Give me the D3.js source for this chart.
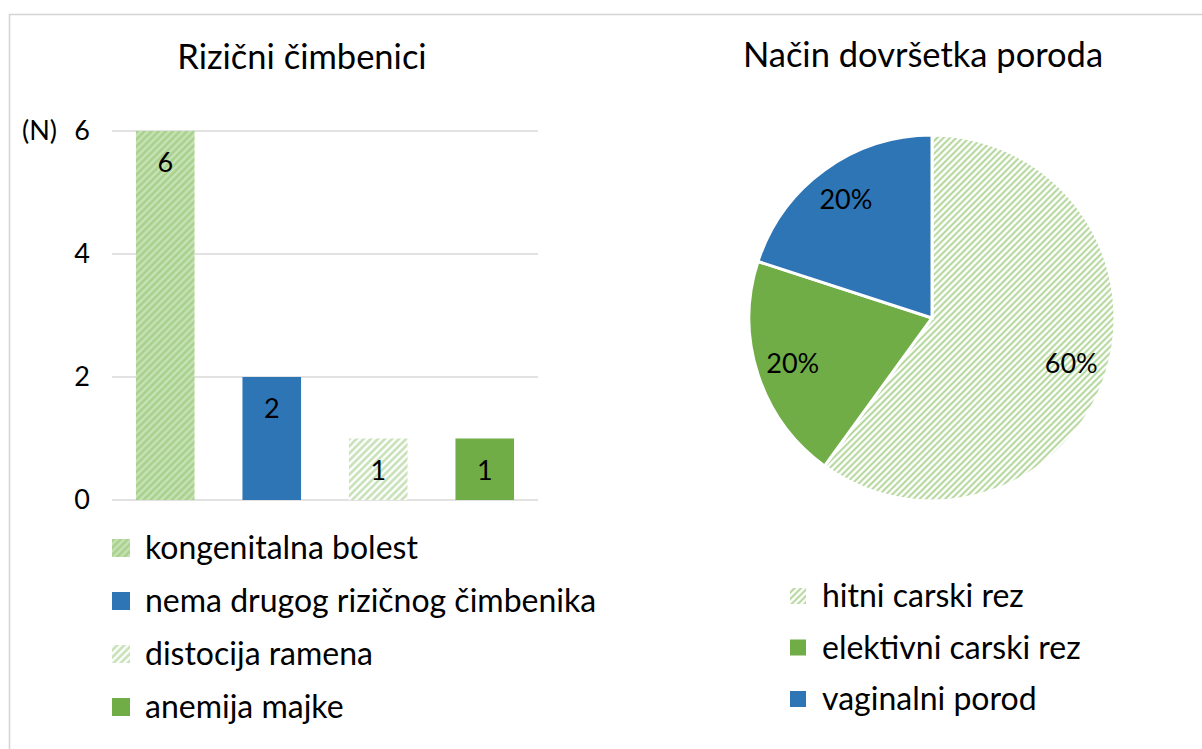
<!DOCTYPE html>
<html>
<head>
<meta charset="utf-8">
<script src="https://cdn.jsdelivr.net/npm/d3@7"></script>
<style>
  body { margin: 0; background: #fff; }
  svg text { font-family: Lato, "Open Sans", sans-serif; fill: #000; }
</style>
</head>
<body>
<svg class="chart"></svg>
<script>
const barCategories = ['kongenitalna bolest', 'nema drugog rizičnog čimbenika', 'distocija ramena', 'anemija majke'];
const barValues = [6, 2, 1, 1];
const barTicks = [0, 2, 4, 6];

const pieCategories = ['hitni carski rez', 'elektivni carski rez', 'vaginalni porod'];
const pieValues = [60, 20, 20];

const width = 1202,
      height = 749;

const chart = d3.select('.chart')
                .attr('width', width)
                .attr('height', height);

// patterns
const defs = chart.append('defs');

function addPattern(id, bg, stripe, sw, size) {
  const p = defs.append('pattern')
                .attr('id', id)
                .attr('patternUnits', 'userSpaceOnUse')
                .attr('width', size)
                .attr('height', size)
                .attr('patternTransform', 'rotate(45)');
  p.append('rect')
   .attr('width', size)
   .attr('height', size)
   .attr('fill', bg);
  p.append('line')
   .attr('x1', size / 2).attr('y1', 0)
   .attr('x2', size / 2).attr('y2', size)
   .attr('stroke', stripe)
   .attr('stroke-width', sw);
}

addPattern('pat-dense', '#a9d18e', '#cde5bd', 2, 5);
addPattern('pat-light', '#ffffff', '#c5e0b4', 2.5, 5);
addPattern('pat-pie', '#ffffff', '#a9d18e', 1.8, 4.5);

const barFills = ['url(#pat-dense)', '#2e75b6', 'url(#pat-light)', '#70ad47'];
const pieFills = ['url(#pat-pie)', '#70ad47', '#2e75b6'];

// frame
chart.append('rect')
     .attr('x', 9.5)
     .attr('y', 14.5)
     .attr('width', 1400)
     .attr('height', 1000)
     .attr('fill', 'none')
     .attr('stroke', '#d4d4d4')
     .attr('stroke-width', 1.5);

// ---------- bar chart ----------
const barLeft = 112,
      barRight = 538,
      barTop = 131,
      barBottom = 500;

const xBar = d3.scaleBand()
               .domain(barCategories)
               .range([barLeft, barRight])
               .paddingInner(0.45)
               .paddingOuter(0.225);

const yBar = d3.scaleLinear()
               .domain([0, 6])
               .range([barBottom, barTop]);

chart.append('text')
     .attr('x', 302)
     .attr('y', 69)
     .attr('text-anchor', 'middle')
     .attr('font-size', 34.5)
     .text('Rizični čimbenici');

chart.append('g')
     .selectAll('line')
     .data(barTicks)
     .enter()
     .append('line')
     .attr('x1', barLeft)
     .attr('x2', barRight)
     .attr('y1', d => yBar(d))
     .attr('y2', d => yBar(d))
     .attr('stroke', '#d9d9d9')
     .attr('stroke-width', 1.5);

const yAxis = d3.axisLeft(yBar)
                .tickValues(barTicks)
                .tickFormat(d3.format('d'))
                .tickSize(0)
                .tickPadding(0);

const yAxisG = chart.append('g')
                    .attr('transform', 'translate(' + 90 + ',0)')
                    .call(yAxis);
yAxisG.select('.domain').remove();
yAxisG.selectAll('text')
      .attr('font-size', 27)
      .attr('font-family', 'Lato, sans-serif')
      .attr('fill', '#000');

chart.append('text')
     .attr('x', 22)
     .attr('y', yBar(6))
     .attr('dy', '0.35em')
     .attr('font-size', 27)
     .text('(N)');

chart.append('g')
     .selectAll('rect')
     .data(barValues)
     .enter()
     .append('rect')
     .attr('x', (d, i) => xBar(barCategories[i]))
     .attr('y', d => yBar(d))
     .attr('width', xBar.bandwidth())
     .attr('height', d => barBottom - yBar(d))
     .attr('fill', (d, i) => barFills[i]);

chart.append('g')
     .selectAll('text')
     .data(barValues)
     .enter()
     .append('text')
     .attr('x', (d, i) => xBar(barCategories[i]) + xBar.bandwidth() / 2)
     .attr('y', d => yBar(d) + 32)
     .attr('dy', '0.35em')
     .attr('text-anchor', 'middle')
     .attr('font-size', 27)
     .text(d => d);

const barLegend = chart.append('g')
                       .selectAll('g')
                       .data(barCategories)
                       .enter()
                       .append('g')
                       .attr('transform', (d, i) => 'translate(112,' + (548 + i * 53) + ')');

barLegend.append('rect')
         .attr('x', 0)
         .attr('y', -9)
         .attr('width', 18)
         .attr('height', 18)
         .attr('fill', (d, i) => barFills[i]);

barLegend.append('text')
         .attr('x', 33)
         .attr('dy', '0.35em')
         .attr('font-size', 32)
         .text(d => d);

// ---------- pie chart ----------
const pieCx = 932,
      pieCy = 318,
      pieR = 183;

chart.append('text')
     .attr('x', 923)
     .attr('y', 67)
     .attr('text-anchor', 'middle')
     .attr('font-size', 34.5)
     .text('Način dovršetka poroda');

const pie = d3.pie()
              .sort(null)
              .value(d => d);

const arc = d3.arc()
              .innerRadius(0)
              .outerRadius(pieR);

const labelArc = d3.arc()
                   .innerRadius(pieR * 0.8)
                   .outerRadius(pieR * 0.8);

const pieG = chart.append('g')
                  .attr('transform', 'translate(' + pieCx + ',' + pieCy + ')');

const slices = pie(pieValues);

pieG.selectAll('path')
    .data(slices)
    .enter()
    .append('path')
    .attr('d', arc)
    .attr('fill', (d, i) => pieFills[i])
    .attr('stroke', '#fff')
    .attr('stroke-width', 3);

pieG.selectAll('text')
    .data(slices)
    .enter()
    .append('text')
    .attr('transform', d => 'translate(' + labelArc.centroid(d) + ')')
    .attr('dy', '0.35em')
    .attr('text-anchor', 'middle')
    .attr('font-size', 27)
    .text(d => d.data + '%');

const pieLegend = chart.append('g')
                       .selectAll('g')
                       .data(pieCategories)
                       .enter()
                       .append('g')
                       .attr('transform', (d, i) => 'translate(790,' + (596 + i * 51.5) + ')');

pieLegend.append('rect')
         .attr('x', 0)
         .attr('y', -8)
         .attr('width', 16)
         .attr('height', 16)
         .attr('fill', (d, i) => pieFills[i]);

pieLegend.append('text')
         .attr('x', 32)
         .attr('dy', '0.35em')
         .attr('font-size', 32)
         .text(d => d);
</script>
</body>
</html>
